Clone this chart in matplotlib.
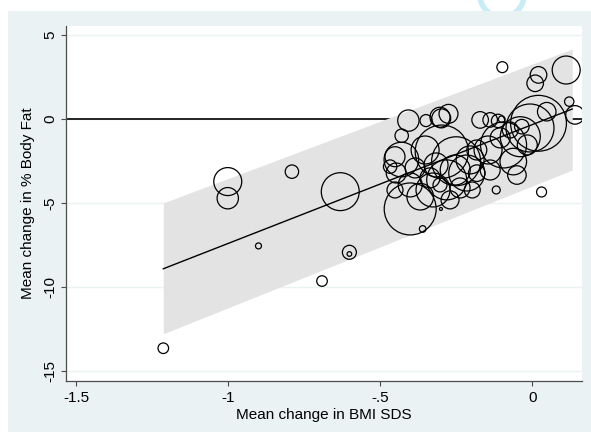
import matplotlib
matplotlib.use("Agg")
import matplotlib.pyplot as plt
from matplotlib.patches import Rectangle, Arc
import numpy as np

plt.rcParams['font.family'] = ['Liberation Sans', 'DejaVu Sans']

# Study-level results: mean change in BMI SDS vs mean change in % body fat,
# marker area proportional to study weight
bmi_change = [
    -1.213, -1.001, -1.001, -0.790, -0.631, -0.900, -0.601, -0.601, -0.691,
    -0.118, 0.031, -0.098, 0.112, 0.021, 0.010, 0.122, 0.141,
    -0.401, -0.360, -0.300,
    -0.407, -0.429, -0.349, -0.303, -0.299, -0.275, -0.297, -0.451, -0.447,
    -0.467, -0.401, -0.368, -0.281, -0.215, -0.336, -0.253, -0.316,
    -0.171, -0.138, -0.100, -0.112, -0.034, 0.048, 0.021, -0.007,
    -0.039, -0.094, -0.062, -0.182, -0.050, -0.182, -0.138, -0.105, -0.072,
    -0.145, -0.204, -0.237, -0.197, -0.385, -0.352, -0.451, -0.016,
    -0.270, -0.303, -0.326, -0.430, -0.250,
]
fat_change = [
    -13.63, -3.71, -4.70, -3.12, -4.31, -7.54, -7.92, -8.02, -9.63,
    -4.21, -4.33, 3.10, 2.93, 2.64, 2.14, 1.05, 0.26,
    -5.34, -6.53, -5.34,
    -0.08, -0.98, -0.08, 0.12, 0.05, 0.32, -1.93, -2.23, -3.20,
    -2.82, -3.91, -4.61, -3.61, -3.20, -3.49, -3.02, -2.72,
    -0.04, -0.04, 0.00, -0.10, -0.44, 0.45, -0.24, -0.52,
    -1.04, -1.53, -2.52, -1.83, -3.32, -3.21, -3.02, -1.11, -0.64,
    -1.83, -2.42, -4.09, -4.21, -2.90, -1.83, -4.21, -1.53,
    -4.80, -3.91, -4.21, -2.40, -2.50,
]
weight = [
    2.8, 19.6, 11.4, 4.5, 36.0, 0.9, 4.9, 0.53, 2.8,
    1.6, 2.5, 3.0, 19.6, 6.9, 6.9, 2.2, 8.6,
    67.6, 1.1, 0.22,
    11.4, 4.5, 3.6, 10.0, 9.0, 9.0, 71.0, 10.0, 10.0,
    4.5, 14.4, 17.7, 40.0, 32.4, 10.0, 22.5, 14.4,
    6.9, 5.3, 1.1, 4.5, 5.3, 8.6, 78.0, 57.6,
    40.0, 53.0, 17.7, 10.0, 8.6, 6.9, 10.0, 10.0, 6.4,
    19.6, 19.6, 10.0, 6.4, 10.0, 19.6, 6.4, 10.0,
    8.1, 4.9, 28.9, 30.0, 60.0,
]

# Fitted meta-regression line and its prediction band
fit_x = [-1.213, 0.132]
fit_y = [-8.90, 0.61]
band_lo = [-12.77, -3.02]
band_hi = [-4.98, 4.18]

x_ticks = [-1.5, -1.0, -0.5, 0.0]
x_ticklabels = ["-1.5", "-1", "-.5", "0"]
y_ticks = [-15, -10, -5, 0, 5]
y_ticklabels = ["-15", "-10", "-5", "0", "5"]

W, H = 591, 432
fig = plt.figure(figsize=(W / 100, H / 100), dpi=100)
fig.patch.set_facecolor("white")
panel = "#eaf2f3"

# faint ring mark in the top margin, mostly hidden behind the graph region
fig.add_artist(Arc((502 / W, 1 + 5 / H), 44 / W, 44 / H, theta1=180, theta2=360,
                   transform=fig.transFigure, color="#c8ecf8", linewidth=4, zorder=-1))
fig.add_artist(Rectangle((8 / W, 0), 1 - 8 / W, 1 - 11 / H, transform=fig.transFigure,
                         facecolor=panel, edgecolor="none", zorder=0))

ax = fig.add_axes([66 / W, 1 - 381 / H, (582 - 66) / W, (381 - 26) / H])
ax.set_facecolor("white")
ax.set_xlim(-1.533, 0.164)
ax.set_ylim(-15.58, 5.55)

for s in ["top", "right"]:
    ax.spines[s].set_visible(False)
for s in ["left", "bottom"]:
    ax.spines[s].set_color("#4d4d4d")
    ax.spines[s].set_linewidth(0.9)

ax.set_xticks(x_ticks)
ax.set_xticklabels(x_ticklabels)
ax.set_yticks(y_ticks)
ax.set_yticklabels(y_ticklabels, rotation=90, va="center")
ax.tick_params(axis="both", direction="out", length=3.5, width=0.8, color="#4d4d4d",
               labelsize=11, labelcolor="black")
ax.tick_params(axis="x", pad=4)
ax.tick_params(axis="y", pad=3)

ax.yaxis.grid(True, color=panel, linewidth=1.0, zorder=0.5)
ax.set_axisbelow(True)

ax.axhline(0, color="black", linewidth=1.2, zorder=1.5)
ax.fill_between(fit_x, band_lo, band_hi, color="#e3e3e3", linewidth=0, zorder=2)
ax.plot(fit_x, fit_y, color="black", linewidth=1.0, zorder=3)

sizes = np.asarray(weight) * 20.7
ax.scatter(bmi_change, fat_change, s=sizes, facecolors="none", edgecolors="black",
           linewidths=0.9, zorder=4)

ax.set_xlabel("Mean change in BMI SDS", fontsize=11, labelpad=2)
ax.set_ylabel("Mean change in % Body Fat", fontsize=11, labelpad=6)

fig.savefig("out.png", dpi=100, facecolor=fig.get_facecolor())
